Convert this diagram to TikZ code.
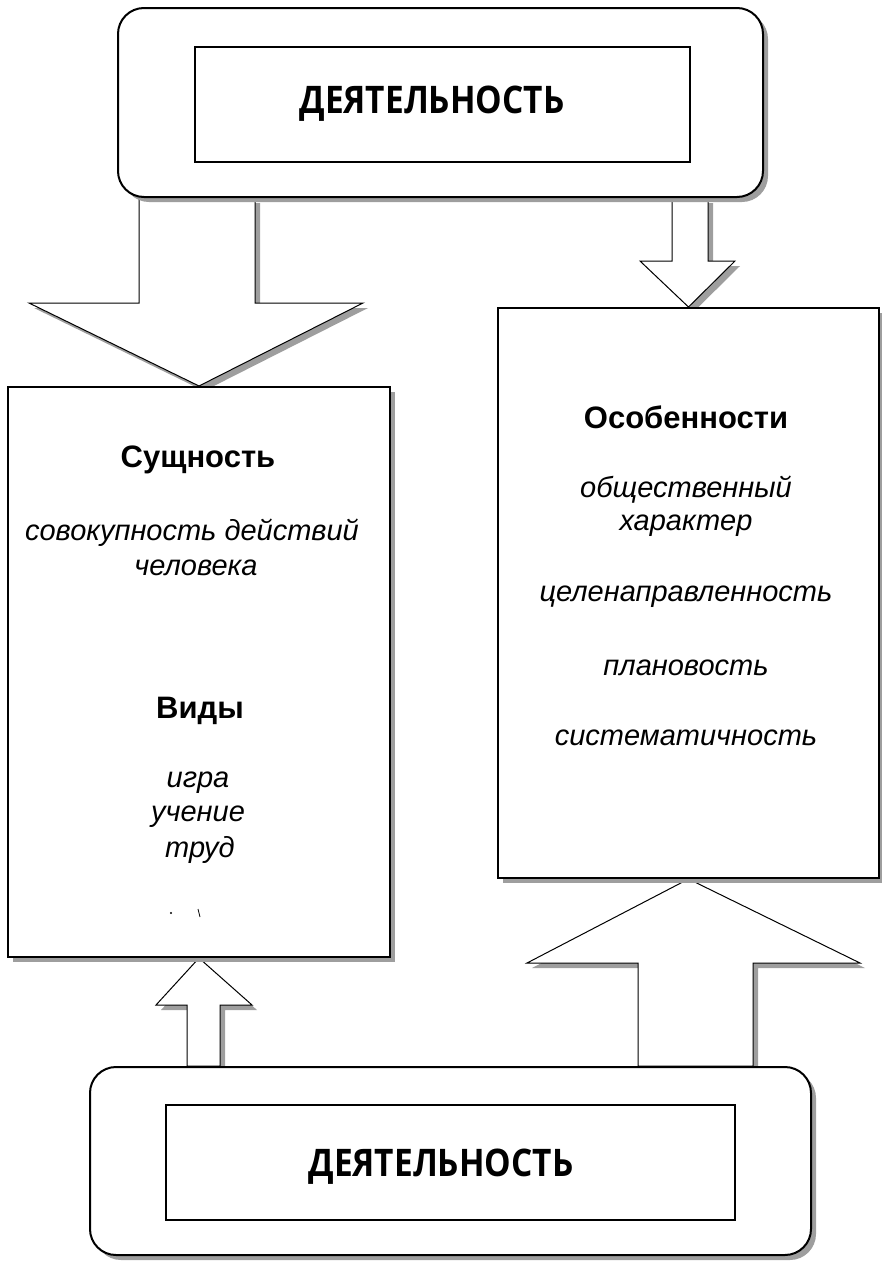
\documentclass[tikz,border=0pt]{standalone}
\usepackage{fontspec}
\setmainfont{Liberation Sans}
\newfontfamily\titlefont[FakeStretch=0.88]{Open Sans}
\usetikzlibrary{shadows}
\pgfdeclarelayer{bg}
\pgfsetlayers{bg,main}
\tikzset{
  shad/.style={drop shadow={shadow xshift=5pt,shadow yshift=-5pt,fill=black!38,opacity=1}},
  outerbox/.style={draw, line width=2pt, rounded corners=26pt, fill=white, shad, inner sep=0},
  innerbox/.style={draw, line width=1.6pt, fill=white, inner sep=0},
  mainbox/.style={draw, line width=2pt, fill=white, shad, inner sep=0},
  blockarrow/.style={draw, line width=1pt, fill=white, shad, line join=miter},
  title/.style={font=\titlefont\bfseries\fontsize{38}{42}\selectfont, inner sep=0},
  headtxt/.style={font=\bfseries\fontsize{31}{34}\selectfont, inner sep=0},
  itemtxt/.style={font=\itshape\fontsize{29}{33}\selectfont, inner sep=0},
}
\begin{document}
\begin{tikzpicture}[x=1pt,y=-1pt]
\useasboundingbox (0,0) rectangle (882,1261);
% top block
\node[outerbox, minimum width=645pt, minimum height=189pt] (Top) at (440.5,102.5) {};
\node[innerbox, minimum width=495pt, minimum height=115pt] (TopIn) at (442.5,104.5) {};
\node[title] (TopT) at (432,104) {ДЕЯТЕЛЬНОСТЬ};
% bottom block
\node[outerbox, minimum width=721pt, minimum height=188pt] (Bot) at (450.5,1161) {};
\node[innerbox, minimum width=569pt, minimum height=115pt] (BotIn) at (450.5,1162.5) {};
\node[title] (BotT) at (441,1167) {ДЕЯТЕЛЬНОСТЬ};
% left box
\node[mainbox, minimum width=382pt, minimum height=570pt] (L) at (199,672) {};
\node[headtxt] (Lh1) at (198,460) {Сущность};
\node[itemtxt] (Ll1) at (192,533) {совокупность действий};
\node[itemtxt] (Ll2) at (196,568) {человека};
\node[headtxt] (Lh2) at (200,711) {Виды};
\node[itemtxt] (Ll3) at (198,783) {игра};
\node[itemtxt] (Ll4) at (198,817) {учение};
\node[itemtxt] (Ll5) at (200,850) {труд};
\fill (171,913) circle (1.2pt);
\draw[line width=0.8pt] (198,909) -- (200,917);
% right box
\node[mainbox, minimum width=381pt, minimum height=570pt] (R) at (688.5,593) {};
\node[headtxt] (Rh1) at (686,417) {Особенности};
\node[itemtxt] (Rl1) at (686,490) {общественный};
\node[itemtxt] (Rl2) at (686,526) {характер};
\node[itemtxt] (Rl3) at (686,597) {целенаправленность};
\node[itemtxt] (Rl4) at (686,668) {плановость};
\node[itemtxt] (Rl5) at (686,738) {систематичность};
% block arrows
\begin{pgfonlayer}{bg}
\draw[blockarrow] (139,0 |- Top.south) -- (139,303) -- (29,303) -- (L.north) -- (363,303) -- (255,303) -- (255,0 |- Top.south) -- cycle;
\draw[blockarrow] (672,0 |- Top.south) -- (672,261) -- (640,261) -- (R.north) -- (735,261) -- (708,261) -- (708,0 |- Top.south) -- cycle;
\draw[blockarrow] (187,0 |- Bot.north) -- (187,1005) -- (156,1005) -- (L.south) -- (252,1005) -- (220,1005) -- (220,0 |- Bot.north) -- cycle;
\draw[blockarrow] (638,0 |- Bot.north) -- (638,963) -- (527,963) -- (R.south) -- (860,963) -- (753,963) -- (753,0 |- Bot.north) -- cycle;
\end{pgfonlayer}
\end{tikzpicture}
\end{document}
